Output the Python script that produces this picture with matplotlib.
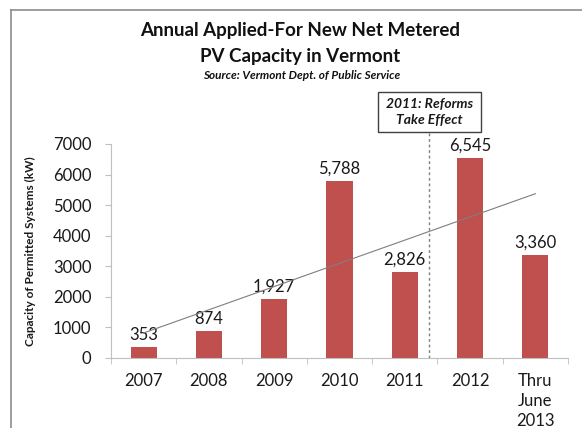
import matplotlib
matplotlib.use("Agg")
import matplotlib.pyplot as plt
from matplotlib.lines import Line2D
from matplotlib.patches import Rectangle
import numpy as np

categories = ["2007", "2008", "2009", "2010", "2011", "2012", "Thru\nJune\n2013"]
values = [353, 874, 1927, 5788, 2826, 6545, 3360]
yticks = [0, 1000, 2000, 3000, 4000, 5000, 6000, 7000]
reform_pos = 4.37

plt.rcParams['font.family'] = ['Lato', 'DejaVu Sans']

W, H = 582, 428
fig = plt.figure(figsize=(W / 100, H / 100), dpi=100)
ax = fig.add_axes([0.1907, 0.1636, 0.976 - 0.1907, 0.5])

x = np.arange(len(values))
bar_color = "#C0504D"
ax.bar(x, values, width=0.4, color=bar_color, zorder=2)
for xi, v in zip(x, values):
    ax.annotate(f"{v:,}", (xi, v), xytext=(0, 3), textcoords="offset points",
                ha="center", va="bottom", fontsize=12, color="#1a1a1a")

# linear trendline
coef = np.polyfit(x + 1, values, 1)
ax.plot([x[0], x[-1]], np.polyval(coef, [x[0] + 1, x[-1] + 1]), color="#7f7f7f",
        lw=0.8, zorder=3)

ax.set_xlim(-0.5, len(values) - 0.5)
ax.set_ylim(0, 7000)
ax.set_yticks(yticks)
ax.set_yticklabels([str(t) for t in yticks], fontsize=12, color="#1a1a1a")
ax.set_xticks(x)
ax.set_xticklabels(categories, fontsize=12, color="#1a1a1a", linespacing=1.3)
ax.set_xticks(np.arange(-0.5, len(values), 1.0), minor=True)
ax.tick_params(axis="x", which="major", length=0, pad=11)
ax.tick_params(axis="x", which="minor", length=4, color="#bfbfbf", direction="out")
ax.tick_params(axis="y", length=4, color="#bfbfbf", direction="out", pad=10)
for s in ["top", "right"]:
    ax.spines[s].set_visible(False)
ax.spines["left"].set_color("#bfbfbf")
ax.spines["bottom"].set_color("#bfbfbf")
ax.set_ylabel("Capacity of Permitted Systems (kW)", fontsize=8.5, fontweight="bold",
              color="#1a1a1a")
ax.yaxis.set_label_coords(-0.163, 0.5)

# reform box (figure pixel coordinates, top-origin -> converted)
box_l, box_r, box_t, box_b = 378, 481, 92, 132
fig.add_artist(Rectangle((box_l / W, 1 - box_b / H), (box_r - box_l) / W,
                         (box_b - box_t) / H, transform=fig.transFigure,
                         fc="white", ec="#404040", lw=1.0))
fig.text((box_l + box_r) / 2 / W, 1 - (box_t + box_b) / 2 / H,
         "2011: Reforms\nTake Effect", ha="center", va="center",
         fontsize=10, fontweight="bold", style="italic", color="#1a1a1a",
         linespacing=1.35)

# dashed reform line from axis bottom up to the box
box_bottom_data = 7000 + (144 - box_b) / (358 - 144) * 7000
ax.plot([reform_pos, reform_pos], [0, box_bottom_data], color="#7f7f7f", lw=1.0,
        ls=(0, (2, 2)), clip_on=False, zorder=1)

fig.text(0.515, 0.928, "Annual Applied-For New Net Metered", ha="center", va="center",
         fontsize=13.5, fontweight="bold", color="#111111")
fig.text(0.515, 0.867, "PV Capacity in Vermont", ha="center", va="center",
         fontsize=13.5, fontweight="bold", color="#111111")
fig.text(0.519, 0.824, "Source: Vermont Dept. of Public Service", ha="center", va="center",
         fontsize=8.5, fontweight="bold", style="italic", color="#111111")

# figure border (top and left)
bx = 11 / W
by = 1 - 10 / H
fig.add_artist(Line2D([bx, 1.0], [by, by], transform=fig.transFigure, color="#8c8c8c", lw=1.2))
fig.add_artist(Line2D([bx, bx], [0, by], transform=fig.transFigure, color="#8c8c8c", lw=1.2))

fig.savefig("out.png", dpi=100)
